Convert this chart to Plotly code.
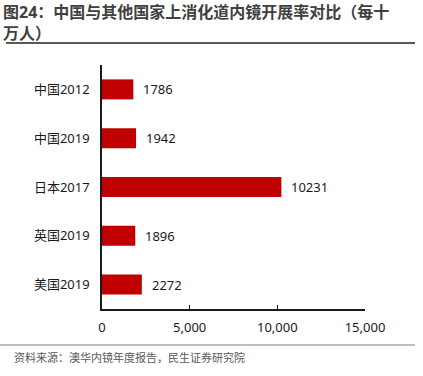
import plotly.graph_objects as go

categories = ["中国2012", "中国2019", "日本2017", "英国2019", "美国2019"]
values = [1786, 1942, 10231, 1896, 2272]
x_ticks = [0, 5000, 10000, 15000]
x_tick_labels = ["0", "5,000", "10,000", "15,000"]

title_line1 = "图24：中国与其他国家上消化道内镜开展率对比（每十"
title_line2 = "万人）"
source = "资料来源：澳华内镜年度报告，民生证券研究院"

FONT = "Noto Sans, Noto Sans CJK SC, sans-serif"
W, H = 423, 376
L, R, T, B = 102, 58, 65, 67

fig = go.Figure()
fig.add_trace(go.Bar(
    y=categories, x=values, orientation="h",
    marker=dict(color="#C00000", line=dict(width=0)),
    width=0.41, hoverinfo="skip",
))

for c, v in zip(categories, values):
    fig.add_annotation(x=v, y=c, xref="x", yref="y", text=str(v), showarrow=False,
                       xanchor="left", xshift=8, font=dict(size=13, color="#1a1a1a", family=FONT))

def px(xp):
    return (xp - L) / (W - L - R)

def py(yp):
    return (H - B - yp) / (H - T - B)

for txt, yc in [(title_line1, 12), (title_line2, 33)]:
    fig.add_annotation(x=px(1), y=py(yc), xref="paper", yref="paper",
                       text="<b>" + txt + "</b>",
                       showarrow=False, xanchor="left", yanchor="middle", align="left",
                       font=dict(size=16, color="#404040", family=FONT))
fig.add_annotation(x=px(12), y=py(357), xref="paper", yref="paper", text=source,
                   showarrow=False, xanchor="left", yanchor="middle",
                   font=dict(size=11, color="#595959", family=FONT))

fig.add_shape(type="line", xref="paper", yref="paper", x0=px(6), x1=px(415), y0=py(43), y1=py(43),
              line=dict(color="#595959", width=2))
fig.add_shape(type="line", xref="paper", yref="paper", x0=px(0), x1=px(415), y0=py(345), y1=py(345),
              line=dict(color="#7f7f7f", width=1))

fig.update_layout(
    width=W, height=H,
    margin=dict(l=L, r=R, t=T, b=B, autoexpand=False),
    paper_bgcolor="white", plot_bgcolor="white",
    showlegend=False,
    font=dict(family=FONT, size=13, color="#1a1a1a"),
    bargap=0.59,
)
fig.update_xaxes(range=[0, 15000], tickvals=x_ticks, ticktext=x_tick_labels, automargin=False,
                 showgrid=False, zeroline=False, showline=True, linecolor="#1a1a1a", linewidth=1.5,
                 ticks="inside", ticklen=4, tickcolor="#1a1a1a", tickfont=dict(size=13, family=FONT),
                 ticklabelstandoff=6, fixedrange=True)
fig.update_yaxes(categoryorder="array", categoryarray=categories[::-1], autorange=True, automargin=False,
                 showgrid=False, zeroline=False, showline=True, linecolor="#1a1a1a", linewidth=1.5,
                 ticks="", ticklabelstandoff=8, tickfont=dict(size=13, family=FONT), fixedrange=True)

fig.write_html("out.html", config={"displayModeBar": False},
               post_script="document.body.style.margin='0';document.body.style.padding='0';")
